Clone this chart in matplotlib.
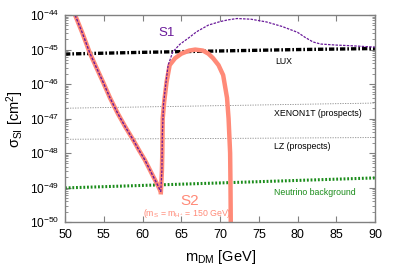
import numpy as np
import matplotlib
matplotlib.use("Agg")
import matplotlib.pyplot as plt
from matplotlib.ticker import FuncFormatter

plt.rcParams['font.family'] = ['Liberation Sans', 'DejaVu Sans']
plt.rcParams['mathtext.fontset'] = 'custom'
plt.rcParams['mathtext.rm'] = 'Liberation Sans'
plt.rcParams['mathtext.it'] = 'Liberation Sans'
plt.rcParams['mathtext.bf'] = 'Liberation Sans:bold'

# left branch, shared by S1 and S2 (log10 of sigma in cm^2)
left_m = [51.3, 52.2, 53.2, 54.0, 54.9, 55.8, 56.8, 57.8, 58.8, 59.5, 60.3, 61.2, 62.0, 62.35]
left_log = [-44.0, -44.5, -45.1, -45.5, -45.94, -46.4, -46.85, -47.25, -47.62, -47.9,
            -48.2, -48.6, -48.95, -49.12]

# S1 right branch
s1_m = [62.35, 62.5, 62.55, 62.7, 63.0, 63.3, 63.9, 64.8, 65.9, 67.0, 68.5, 70.0, 71.0,
        72.2, 74.0, 76.0, 78.0, 80.0, 81.0, 82.0, 83.0, 85.0, 87.0, 90.0]
s1_log = [-49.12, -48.5, -47.5, -46.6, -46.0, -45.45, -45.07, -44.85, -44.67, -44.48,
          -44.29, -44.19, -44.14, -44.1, -44.12, -44.2, -44.33, -44.5, -44.65, -44.78,
          -44.84, -44.87, -44.89, -44.93]

# S2 right branch
s2_m = [62.35, 62.5, 62.55, 62.6, 62.8, 63.1, 63.5, 64.2, 65.0, 66.0, 66.8, 67.8, 68.5,
        69.1, 69.8, 70.4, 70.9, 71.1, 71.3, 71.35, 71.4]
s2_log = [-49.2, -48.5, -48.0, -47.0, -46.5, -45.94, -45.45, -45.25, -45.12, -45.03, -45.0,
          -45.03, -45.12, -45.25, -45.45, -45.74, -46.4, -47.0, -48.0, -49.0, -50.5]

lux_m = [50, 60, 70, 80, 90]
lux_log = [-45.13, -45.08, -45.04, -45.0, -44.97]

xenon_m = [50, 90]
xenon_log = [-46.7, -46.55]

lz_m = [50, 90]
lz_log = [-47.6, -47.55]

nu_m = [50, 90]
nu_log = [-49.01, -48.72]

salmon = '#ff8a78'
purple = '#6a1a9a'

fig = plt.figure(figsize=(3.99, 2.79), dpi=100)
ax = fig.add_axes([0.163, 0.204, 0.777, 0.742])

ax.plot(xenon_m, 10.0 ** np.array(xenon_log), color='#888888', lw=0.6, ls=(0, (1.5, 1.5)))
ax.plot(lz_m, 10.0 ** np.array(lz_log), color='#888888', lw=0.6, ls=(0, (1.5, 1.5)))
ax.plot(nu_m, 10.0 ** np.array(nu_log), color='#1a8c1a', lw=2.2, ls=(0, (0.6, 0.6)))
ax.plot(lux_m, 10.0 ** np.array(lux_log), color='black', lw=2.4, ls=(0, (1.6, 0.6, 0.5, 0.6)))

ax.plot(left_m, 10.0 ** np.array(left_log), color=salmon, lw=3.2, solid_capstyle='butt')
ax.plot(s2_m, 10.0 ** np.array(s2_log), color=salmon, lw=3.2, solid_capstyle='butt')
ax.plot(left_m, 10.0 ** np.array(left_log), color=purple, lw=1.0, ls=(0, (2, 1)))
ax.plot(s1_m, 10.0 ** np.array(s1_log), color=purple, lw=0.9, ls=(0, (2, 1)))

ax.set_yscale('log')
ax.set_xlim(50, 90)
ax.set_ylim(1e-50, 1e-44)
ax.set_xticks([50, 55, 60, 65, 70, 75, 80, 85, 90])
ax.yaxis.set_major_formatter(FuncFormatter(lambda v, p: '10$^{%d}$' % round(np.log10(v))))

for s in ax.spines.values():
    s.set_color('#808080')
    s.set_linewidth(1.0)
ax.tick_params(which='both', direction='in', top=True, right=True, color='#808080',
               labelsize=9, pad=5)
ax.tick_params(axis='y', labelsize=8.6, pad=4)
ax.tick_params(which='major', length=4.5)
ax.tick_params(which='minor', length=2.5)

ax.set_xlabel(r'm$_{\rm DM}$ [GeV]', fontsize=10.5, labelpad=5)
ax.set_ylabel(r'$\sigma_{\rm SI}$ [cm$^{2}$]', fontsize=10.5, labelpad=3)

ax.text(62.1, 10 ** -44.6, 'S1', color=purple, fontsize=9.5)
ax.text(77.1, 10 ** -45.36, 'LUX', color='black', fontsize=6.3, va='center')
ax.text(77.0, 10 ** -46.84, 'XENON1T (prospects)', color='black', fontsize=6.3, va='center')
ax.text(77.0, 10 ** -47.8, 'LZ (prospects)', color='black', fontsize=6.3, va='center')
ax.text(77.0, 10 ** -49.13, 'Neutrino background', color='#1a8c1a', fontsize=6.3, va='center')
ax.text(66.1, 10 ** -49.4, 'S2', color=salmon, fontsize=11, ha='center', va='center')
ax.text(60.0, 10 ** -49.76, r'(m$_{\rm S}$ = m$_{\rm H^{+}}$ = 150 GeV)', color=salmon,
        fontsize=6.3, va='center')

fig.savefig('out.png', dpi=100)
